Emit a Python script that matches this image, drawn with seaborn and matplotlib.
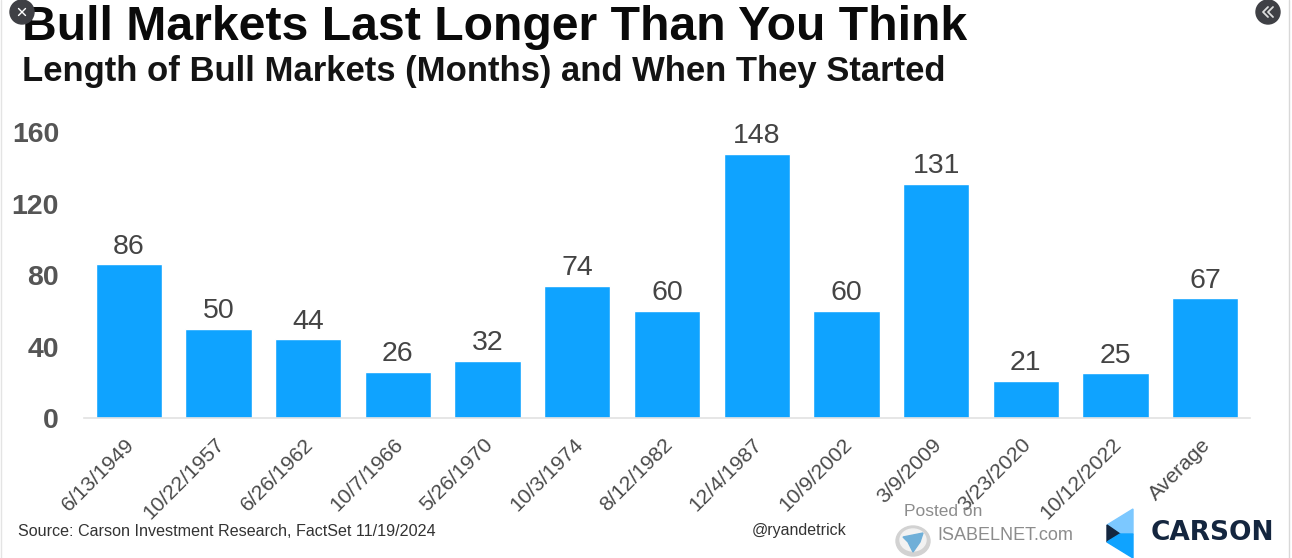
import matplotlib
matplotlib.use("Agg")
import matplotlib.pyplot as plt
from matplotlib.patches import Polygon, Circle, Ellipse
from matplotlib.transforms import ScaledTranslation
import pandas as pd
import seaborn as sns

dates = ["6/13/1949", "10/22/1957", "6/26/1962", "10/7/1966", "5/26/1970", "10/3/1974",
         "8/12/1982", "12/4/1987", "10/9/2002", "3/9/2009", "3/23/2020", "10/12/2022", "Average"]
months = [86, 50, 44, 26, 32, 74, 60, 148, 60, 131, 21, 25, 67]
y_ticks = [0, 40, 80, 120, 160]

W, H = 1292, 558
sns.set_theme(style="white")
plt.rcParams["font.family"] = ["Liberation Sans", "DejaVu Sans"]

fig = plt.figure(figsize=(W / 100, H / 100), dpi=100, facecolor="white")
ax = fig.add_axes([84 / W, 1 - 418 / H, (1250 - 84) / W, 300 / H])
df = pd.DataFrame({"date": dates, "months": months})
sns.barplot(data=df, x="date", y="months", color="#0FA3FF", saturation=1, width=0.74, ax=ax)
ax.set_xlim(-0.5, 12.5)
ax.set_ylim(0, 300 / 1.785)
ax.set_xlabel("")
ax.set_ylabel("")
for s in ["top", "right", "left"]:
    ax.spines[s].set_visible(False)
ax.spines["bottom"].set_color("#E2E2E2")
ax.spines["bottom"].set_linewidth(1.2)
ax.set_yticks(y_ticks)
ax.set_yticklabels(y_ticks, fontsize=20.5, fontweight="bold", color="#555555")
ax.tick_params(axis="y", length=0, pad=18)
ax.tick_params(axis="x", length=0, pad=12)
ax.set_xticks(range(len(dates)))
ax.set_xticklabels(dates, rotation=45, ha="right", rotation_mode="anchor",
                   fontsize=15.2, color="#4A4A4A")
for lab in ax.get_xticklabels():
    lab.set_transform(lab.get_transform() + ScaledTranslation(-3 / 72, 0, fig.dpi_scale_trans))
for c in ax.containers:
    ax.bar_label(c, labels=[str(v) for v in months], fontsize=20.5, color="#444444", padding=3.5)


def ftext(x, y, s, **kw):
    fig.text(x / W, 1 - y / H, s, **kw)


ftext(22, 28, "Bull Markets Last Longer Than You Think", fontsize=34.65, fontweight="bold",
      color="#0A0A0A", va="center", ha="left")
ftext(22, 71, "Length of Bull Markets (Months) and When They Started", fontsize=24.9, fontweight="bold",
      color="#141414", va="center", ha="left")
ftext(18, 531, "Source: Carson Investment Research, FactSet 11/19/2024", fontsize=11.6,
      color="#333333", va="center", ha="left")
ftext(752, 530, "@ryandetrick", fontsize=11.5, color="#333333", va="center", ha="left")
ftext(904, 511, "Posted on", fontsize=12.5, color="#8C8C8C", va="center", ha="left")
ftext(937, 536, "ISABELNET.com", fontsize=13, color="#8C8C8C", va="center", ha="left")
ftext(1151, 533, "CARSON", fontsize=19, fontweight="bold", color="#14263F", va="center", ha="left",
      family="DejaVu Sans")

overlay = fig.add_axes([0, 0, 1, 1], facecolor="none")
overlay.set_xlim(0, W)
overlay.set_ylim(H, 0)
overlay.axis("off")
overlay.set_zorder(5)
# window badges
overlay.add_patch(Circle((22, 12), 12, color="#3F4045"))
overlay.plot([18.5, 25.5], [8.5, 15.5], color="white", lw=1)
overlay.plot([18.5, 25.5], [15.5, 8.5], color="white", lw=1)
overlay.add_patch(Circle((1268, 12), 12, color="#3F4045"))
for dx in (0, 5):
    overlay.plot([1268 + dx, 1263 + dx, 1268 + dx], [7, 12, 17], color="#DDDDDD", lw=1.3)
# edges of the screenshot
overlay.plot([0.5, 0.5], [0, H], color="#E4E4E4", lw=1)
overlay.plot([1288.5, 1288.5], [0, H], color="#D8D8D8", lw=1)
# Isabelnet globe
overlay.add_patch(Ellipse((913, 541), 34, 30, color="#D2D2D2"))
overlay.add_patch(Ellipse((913, 540), 26, 22, color="#F2F2F2"))
overlay.add_patch(Polygon([(903, 537), (923, 533), (920, 542), (913, 552), (908, 542)], color="#6FAFD8"))
# Carson mark
overlay.add_patch(Polygon([(1133, 509), (1133, 534), (1120, 534), (1107, 525)], color="#7CC8FF"))
overlay.add_patch(Polygon([(1107, 525), (1120, 534), (1107, 542)], color="#14263F"))
overlay.add_patch(Polygon([(1120, 534), (1133, 534), (1133, 558), (1107, 542)], color="#0FA3FF"))

fig.savefig("out.png", dpi=100)
